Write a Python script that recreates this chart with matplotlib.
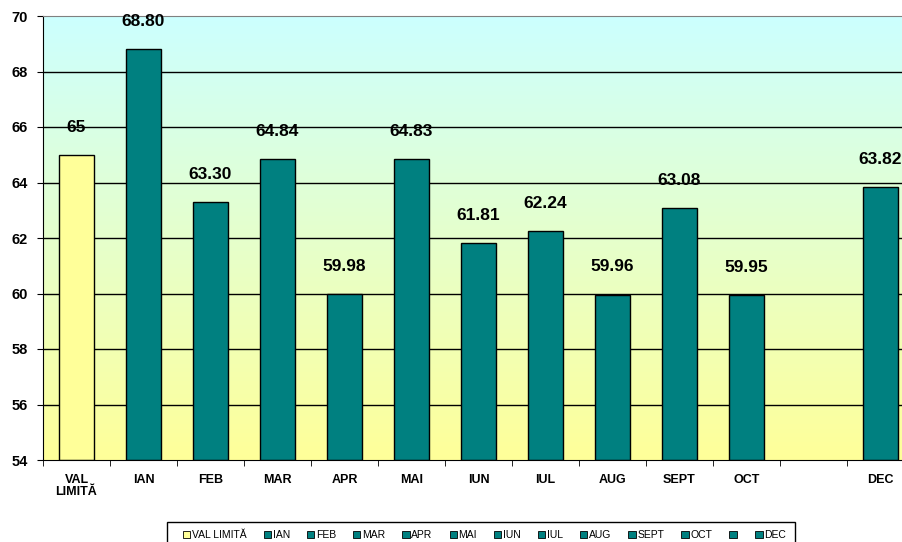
import matplotlib.pyplot as plt
import numpy as np
from matplotlib.patches import Patch, Rectangle

plt.rcParams["font.family"] = ["Liberation Sans", "DejaVu Sans"]

categories = ["VAL\nLIMITĂ", "IAN", "FEB", "MAR", "APR", "MAI", "IUN", "IUL",
              "AUG", "SEPT", "OCT", "", "DEC"]
legend_labels = ["VAL LIMITĂ", "IAN", "FEB", "MAR", "APR", "MAI", "IUN", "IUL",
                 "AUG", "SEPT", "OCT", "", "DEC"]
values = [65, 68.80, 63.30, 64.84, 59.98, 64.83, 61.81, 62.24,
          59.96, 63.08, 59.95, np.nan, 63.82]
value_labels = ["65", "68.80", "63.30", "64.84", "59.98", "64.83", "61.81", "62.24",
                "59.96", "63.08", "59.95", "", "63.82"]

yellow = "#FFFF99"
teal = "#008080"
colors = [yellow] + [teal] * 12

fig = plt.figure(figsize=(9.03, 5.42), dpi=100)
W, H = 903, 542
ax = fig.add_axes([43 / W, (H - 460) / H, 871 / W, 444 / H])

ymin, ymax = 54, 70
x = np.arange(len(categories))
ax.set_xlim(-0.5, len(categories) - 0.5)
ax.set_ylim(ymin, ymax)

# background gradient: cyan at top, pale yellow at bottom
top = np.array([0xCC, 0xFF, 0xFF]) / 255
bot = np.array([0xFF, 0xFF, 0x99]) / 255
t = np.linspace(0, 1, 256)[:, None]
grad = (top * (1 - t) + bot * t)[:, None, :]
ax.imshow(grad, extent=(-0.5, len(categories) - 0.5, ymin, ymax),
          aspect="auto", zorder=0)

for yv in range(56, 70, 2):
    ax.axhline(yv, color="black", lw=1, zorder=1)

for xi, v, c in zip(x, values, colors):
    if np.isnan(v):
        continue
    ax.bar(xi, v - ymin, bottom=ymin, width=0.51, color=c,
           edgecolor="black", linewidth=1, zorder=2)

for xi, v, lab in zip(x, values, value_labels):
    if lab:
        ax.text(xi, v + 1.0, lab, ha="center", va="center",
                fontsize=12.5, fontweight="bold", clip_on=False)

ax.set_yticks(range(54, 71, 2))
ax.set_yticklabels([str(v) for v in range(54, 71, 2)], fontsize=10.5, fontweight="bold")
ax.set_xticks(x)
ax.set_xticklabels(categories, fontsize=9, fontweight="bold", linespacing=1.05)
ax.set_xticks(np.arange(-0.5, len(categories), 1), minor=True)
ax.tick_params(axis="x", which="major", length=0, pad=10)
ax.tick_params(axis="x", which="minor", length=4, color="black")
ax.tick_params(axis="y", length=4, pad=7)

for side in ["top", "right"]:
    ax.spines[side].set_color("#808080")
ax.spines["left"].set_color("black")
ax.spines["bottom"].set_color("black")

# legend entries without frame, then a plain box drawn around them
handles = [Patch(facecolor=c, edgecolor="black", linewidth=0.6) for c in colors]
leg = fig.legend(handles, legend_labels, ncol=13, loc="upper left",
                 bbox_to_anchor=(183 / W, 1 - 530 / H), fontsize=7.5,
                 frameon=False, handlelength=0.7, handleheight=0.7,
                 handletextpad=0.15, columnspacing=1.65, borderpad=0,
                 borderaxespad=0)
fig.patches.append(Rectangle((167 / W, 1 - 560 / H), (795 - 167) / W, 38 / H,
                             transform=fig.transFigure, fill=False,
                             edgecolor="black", linewidth=1, clip_on=False))

fig.savefig("out.png", dpi=100)
